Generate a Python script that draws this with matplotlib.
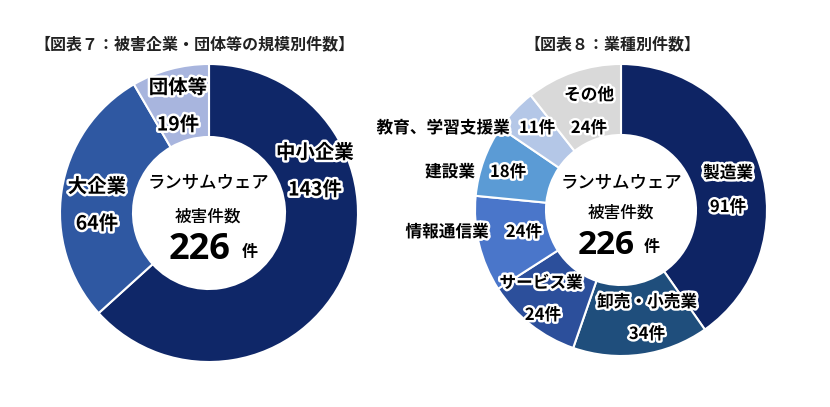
import matplotlib
matplotlib.use("Agg")
import matplotlib.pyplot as plt
import matplotlib.patheffects as pe

plt.rcParams['font.family'] = ['Noto Sans CJK JP', 'DejaVu Sans']

# ---- data ----
size_labels = ["中小企業", "大企業", "団体等"]
size_values = [143, 64, 19]
size_colors = ["#0f2768", "#2f58a2", "#a8b5de"]

ind_labels = ["製造業", "卸売・小売業", "サービス業", "情報通信業", "建設業", "教育、学習支援業", "その他"]
ind_values = [91, 34, 24, 24, 18, 11, 24]
ind_colors = ["#0e2464", "#1f4e7c", "#2c4f9b", "#4a76ca", "#5b9bd5", "#b4c7e7", "#d9d9d9"]

title_left = "【図表７：被害企業・団体等の規模別件数】"
title_right = "【図表８：業種別件数】"
center_line1 = "ランサムウェア"
center_line2 = "被害件数"
total = sum(size_values)

W, H = 830, 407
fig = plt.figure(figsize=(W / 100, H / 100), dpi=100)
ax = fig.add_axes([0, 0, 1, 1])

stroke = [pe.withStroke(linewidth=3.5, foreground='white')]


# y axis is inverted, so these settings render clockwise from 12 o'clock
def donut_cw(cx, cy, r, r_in, values, colors):
    ax.pie(values, colors=colors, center=(cx, cy), radius=r, startangle=-90,
           counterclock=True, wedgeprops=dict(width=r - r_in, edgecolor='white', linewidth=1.5),
           frame=True)


donut_cw(209, 213, 149, 76, size_values, size_colors)
donut_cw(621, 210, 146, 75, ind_values, ind_colors)
ax.set_xlim(0, W)
ax.set_ylim(H, 0)
ax.set_aspect('equal')
ax.axis('off')

# titles
ax.text(195, 44, title_left, ha='center', va='center', fontsize=11.5, fontweight='bold', color='#222222')
ax.text(612, 44, title_right, ha='center', va='center', fontsize=11.5, fontweight='bold', color='#222222')

# left labels
left_pos = [(315, 153, 190), (97, 187, 224), (178, 88, 125)]
for lab, val, (x, y1, y2) in zip(size_labels, size_values, left_pos):
    ax.text(x, y1, lab, ha='center', va='center', fontsize=14, fontweight='bold', color='black', path_effects=stroke)
    ax.text(x, y2, f"{val}件", ha='center', va='center', fontsize=14, fontweight='bold', color='black', path_effects=stroke)

# right labels: (label x, label y, value x, value y)
right_pos = [
    (728, 173, 728, 207),
    (647, 302, 647, 334),
    (541, 283, 543, 315),
    (447, 232, 524, 232),
    (450, 172, 508, 172),
    (443, 128, 537, 128),
    (589, 95, 589, 128),
]
for lab, val, (lx, ly, vx, vy) in zip(ind_labels, ind_values, right_pos):
    ax.text(lx, ly, lab, ha='center', va='center', fontsize=12, fontweight='bold', color='black', path_effects=stroke)
    ax.text(vx, vy, f"{val}件", ha='center', va='center', fontsize=12, fontweight='bold', color='black', path_effects=stroke)

# centers: (cx, line1 y, line2 y, total y, font size, number right edge offset, 件 offset)
for cx, y1, y2, y3, fs, nr, ko in [(208, 183, 217, 250, 26, 22, 42), (621, 183, 213, 245, 24, 14, 31)]:
    ax.text(cx, y1, center_line1, ha='center', va='center', fontsize=12.5, fontweight='medium', color='black')
    ax.text(cx, y2, center_line2, ha='center', va='center', fontsize=12, fontweight='medium', color='black')
    ax.text(cx + nr, y3, f"{total}", ha='right', va='center', fontsize=fs, fontweight='bold',
            family=['Open Sans', 'DejaVu Sans'], color='black')
    ax.text(cx + ko, y3 + 2, "件", ha='center', va='center', fontsize=11.5, fontweight='bold', color='black')

fig.savefig("out.png", dpi=100)
